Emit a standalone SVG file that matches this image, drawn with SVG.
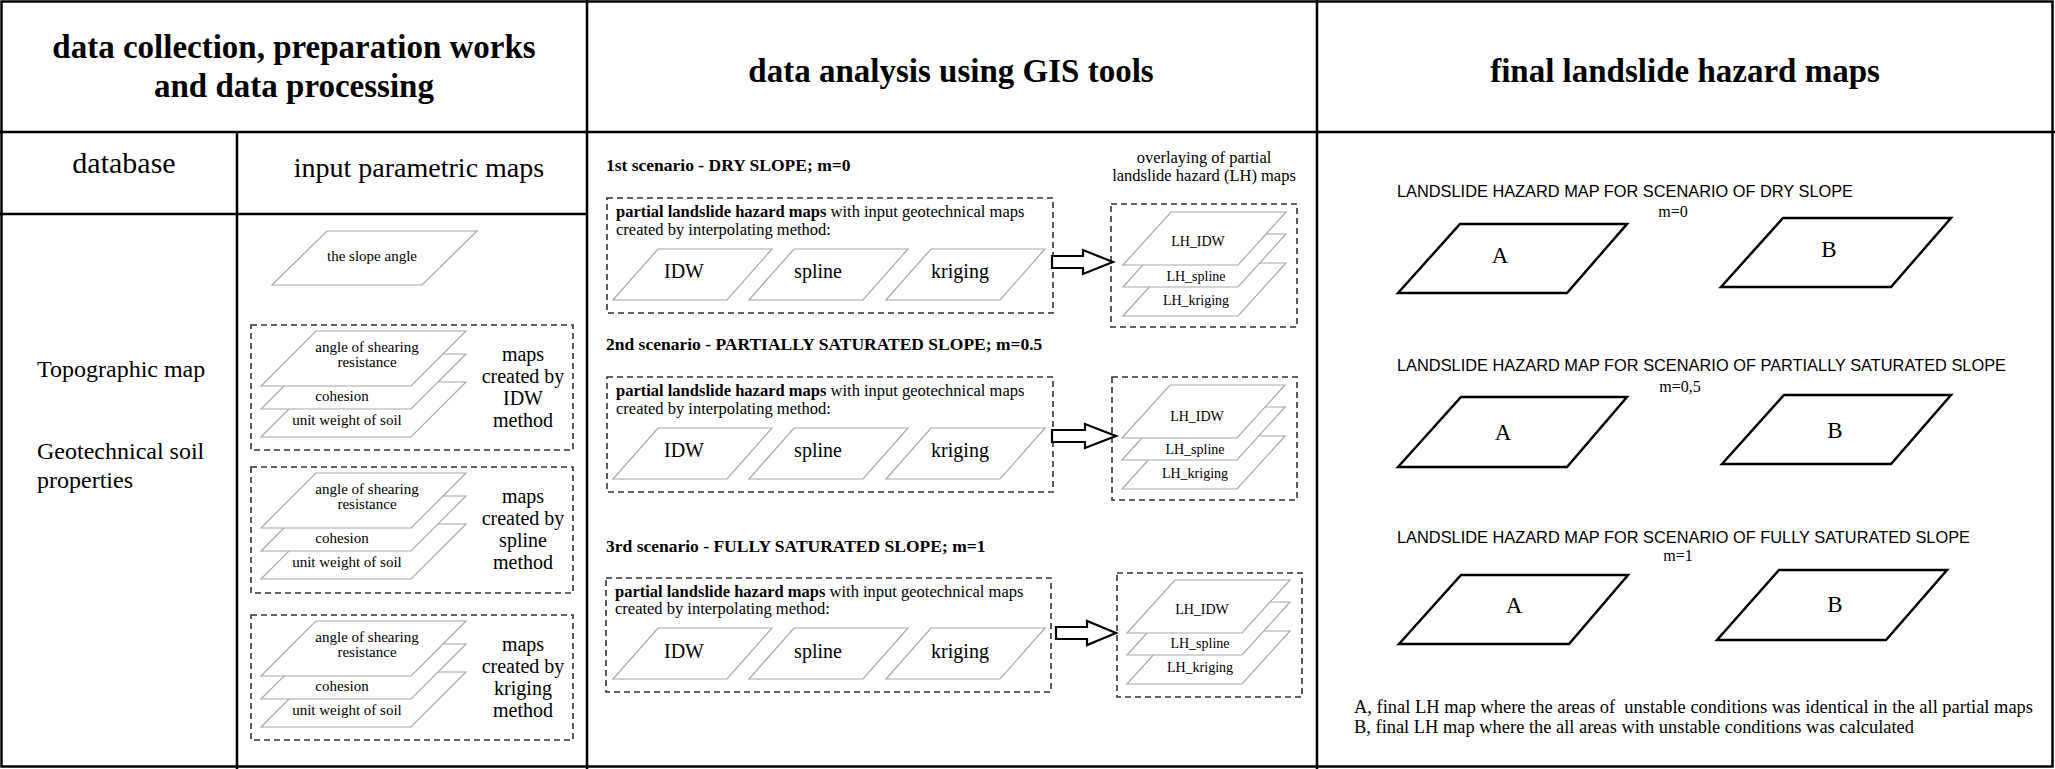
<svg xmlns="http://www.w3.org/2000/svg" width="2055" height="769" viewBox="0 0 2055 769">
<style>
.grid{stroke:#000;stroke-width:2.5;fill:none}
.hdr{font-family:"Liberation Serif",serif;font-weight:bold;font-size:33px;fill:#000;text-anchor:middle}
.sub{font-family:"Liberation Serif",serif;fill:#000;text-anchor:middle}
.lt{fill:#fff;stroke:#a8a8a8;stroke-width:1.2}
.dash{fill:none;stroke:#333;stroke-width:1.6;stroke-dasharray:6,4}
.s15{font-family:"Liberation Serif",serif;font-size:15px;fill:#000;text-anchor:middle}
.s14{font-family:"Liberation Serif",serif;font-size:14px;fill:#000;text-anchor:middle}
.s20{font-family:"Liberation Serif",serif;font-size:20px;fill:#000;text-anchor:middle}
.s16{font-family:"Liberation Serif",serif;font-size:16.5px;fill:#000}
.scn{font-family:"Liberation Serif",serif;font-size:17.5px;font-weight:bold;fill:#000}
.blk{fill:#fff;stroke:#000;stroke-width:2.5;stroke-linejoin:miter}
.sans{font-family:"Liberation Sans",sans-serif;font-size:16.2px;fill:#000}
.ab{font-family:"Liberation Serif",serif;font-size:23px;fill:#000;text-anchor:middle}
.arr{fill:#fff;stroke:#000;stroke-width:2.2}
</style>

<g id="table">
<rect x="1.5" y="1.5" width="2051" height="765" class="grid" stroke-width="3"/>
<line x1="0" y1="132" x2="2055" y2="132" class="grid"/>
<line x1="587" y1="0" x2="587" y2="769" class="grid"/>
<line x1="1317" y1="0" x2="1317" y2="769" class="grid"/>
<line x1="237" y1="132" x2="237" y2="769" class="grid"/>
<line x1="0" y1="214" x2="587" y2="214" class="grid"/>
</g>

<g id="headers">
<text class="hdr" x="294" y="58">data collection, preparation works</text>
<text class="hdr" x="294" y="97">and data processing</text>
<text class="hdr" x="951" y="82">data analysis using GIS tools</text>
<text class="hdr" x="1685" y="82">final landslide hazard maps</text>
<text class="sub" x="124" y="173" font-size="30">database</text>
<text class="sub" x="419" y="177" font-size="28">input parametric maps</text>
</g>

<g id="database">
<text x="37" y="377" font-family="Liberation Serif, serif" font-size="24">Topographic map</text>
<text x="37" y="459" font-family="Liberation Serif, serif" font-size="24">Geotechnical soil</text>
<text x="37" y="488" font-family="Liberation Serif, serif" font-size="24">properties</text>
</g>

<g id="slope-angle">
<polygon class="lt" points="272,285 327,231 477,231 422,285"/>
<text class="s15" x="372" y="261">the slope angle</text>
</g>

<g id="maps-idw">
<rect class="dash" x="251" y="325" width="322" height="125"/>
<polygon class="lt" points="261,437 316,382 466,382 411,437"/>
<polygon class="lt" points="261,409 316,354 466,354 411,409"/>
<polygon class="lt" points="261,386 316,331 466,331 411,386"/>
<text class="s15" x="367" y="352">angle of shearing</text>
<text class="s15" x="367" y="367">resistance</text>
<text class="s15" x="342" y="401">cohesion</text>
<text class="s15" x="347" y="425">unit weight of soil</text>
<text class="s20" x="523" y="361">maps</text>
<text class="s20" x="523" y="383">created by</text>
<text class="s20" x="523" y="405">IDW</text>
<text class="s20" x="523" y="427">method</text>
</g>

<g id="maps-spline">
<rect class="dash" x="251" y="467" width="322" height="126"/>
<polygon class="lt" points="261,579 316,524 466,524 411,579"/>
<polygon class="lt" points="261,551 316,496 466,496 411,551"/>
<polygon class="lt" points="261,528 316,473 466,473 411,528"/>
<text class="s15" x="367" y="494">angle of shearing</text>
<text class="s15" x="367" y="509">resistance</text>
<text class="s15" x="342" y="543">cohesion</text>
<text class="s15" x="347" y="567">unit weight of soil</text>
<text class="s20" x="523" y="503">maps</text>
<text class="s20" x="523" y="525">created by</text>
<text class="s20" x="523" y="547">spline</text>
<text class="s20" x="523" y="569">method</text>
</g>

<g id="maps-kriging">
<rect class="dash" x="251" y="615" width="322" height="125"/>
<polygon class="lt" points="261,727 316,672 466,672 411,727"/>
<polygon class="lt" points="261,699 316,644 466,644 411,699"/>
<polygon class="lt" points="261,676 316,621 466,621 411,676"/>
<text class="s15" x="367" y="642">angle of shearing</text>
<text class="s15" x="367" y="657">resistance</text>
<text class="s15" x="342" y="691">cohesion</text>
<text class="s15" x="347" y="715">unit weight of soil</text>
<text class="s20" x="523" y="651">maps</text>
<text class="s20" x="523" y="673">created by</text>
<text class="s20" x="523" y="695">kriging</text>
<text class="s20" x="523" y="717">method</text>
</g>

<g id="overlay-title">
<text class="s16" x="1204" y="163" text-anchor="middle" font-size="16">overlaying of partial</text>
<text class="s16" x="1204" y="181" text-anchor="middle" font-size="16">landslide hazard (LH) maps</text>
</g>

<g id="scenario-1">
<text class="scn" x="606" y="171">1st scenario - DRY SLOPE; m=0</text>
<rect class="dash" x="607" y="198" width="446" height="115"/>
<text class="s16" x="616" y="217"><tspan font-weight="bold">partial landslide hazard maps</tspan> with input geotechnical maps</text>
<text class="s16" x="616" y="235">created by interpolating method:</text>
<polygon class="lt" points="613,300 658,249 772,249 727,300"/>
<polygon class="lt" points="749,300 794,249 908,249 863,300"/>
<polygon class="lt" points="886,300 931,249 1045,249 1000,300"/>
<text class="s20" x="684" y="278">IDW</text>
<text class="s20" x="818" y="278">spline</text>
<text class="s20" x="960" y="278">kriging</text>
</g>

<g id="overlay-1">
<rect class="dash" x="1111" y="204" width="186" height="123"/>
<polygon class="lt" points="1123,316 1171,263 1286,263 1238,316"/>
<polygon class="lt" points="1123,287 1171,234 1286,234 1238,287"/>
<polygon class="lt" points="1123,265 1171,212 1286,212 1238,265"/>
<text class="s14" x="1198" y="246">LH_IDW</text>
<text class="s14" x="1196" y="281">LH_spline</text>
<text class="s14" x="1196" y="305">LH_kriging</text>
</g>

<g id="scenario-2">
<text class="scn" x="606" y="350">2nd scenario - PARTIALLY SATURATED SLOPE; m=0.5</text>
<rect class="dash" x="607" y="377" width="446" height="115"/>
<text class="s16" x="616" y="396"><tspan font-weight="bold">partial landslide hazard maps</tspan> with input geotechnical maps</text>
<text class="s16" x="616" y="414">created by interpolating method:</text>
<polygon class="lt" points="613,479 658,428 772,428 727,479"/>
<polygon class="lt" points="749,479 794,428 908,428 863,479"/>
<polygon class="lt" points="886,479 931,428 1045,428 1000,479"/>
<text class="s20" x="684" y="457">IDW</text>
<text class="s20" x="818" y="457">spline</text>
<text class="s20" x="960" y="457">kriging</text>
</g>

<g id="overlay-2">
<rect class="dash" x="1112" y="377" width="185" height="123"/>
<polygon class="lt" points="1122,489 1170,436 1285,436 1237,489"/>
<polygon class="lt" points="1122,460 1170,407 1285,407 1237,460"/>
<polygon class="lt" points="1122,438 1170,385 1285,385 1237,438"/>
<text class="s14" x="1197" y="421">LH_IDW</text>
<text class="s14" x="1195" y="454">LH_spline</text>
<text class="s14" x="1195" y="478">LH_kriging</text>
</g>

<g id="scenario-3">
<text class="scn" x="606" y="552">3rd scenario - FULLY SATURATED SLOPE; m=1</text>
<rect class="dash" x="606" y="578" width="445" height="114"/>
<text class="s16" x="615" y="597"><tspan font-weight="bold">partial landslide hazard maps</tspan> with input geotechnical maps</text>
<text class="s16" x="615" y="614">created by interpolating method:</text>
<polygon class="lt" points="613,679 658,628 772,628 727,679"/>
<polygon class="lt" points="749,679 794,628 908,628 863,679"/>
<polygon class="lt" points="886,679 931,628 1045,628 1000,679"/>
<text class="s20" x="684" y="658">IDW</text>
<text class="s20" x="818" y="658">spline</text>
<text class="s20" x="960" y="658">kriging</text>
</g>

<g id="overlay-3">
<rect class="dash" x="1117" y="573" width="185" height="124"/>
<polygon class="lt" points="1127,684 1175,631 1290,631 1242,684"/>
<polygon class="lt" points="1127,655 1175,602 1290,602 1242,655"/>
<polygon class="lt" points="1127,633 1175,580 1290,580 1242,633"/>
<text class="s14" x="1202" y="614">LH_IDW</text>
<text class="s14" x="1200" y="648">LH_spline</text>
<text class="s14" x="1200" y="672">LH_kriging</text>
</g>

<g id="connectors">
<polygon class="arr" points="1052,256 1083,256 1083,250 1113,262 1083,274 1083,268 1052,268"/>
<polygon class="arr" points="1052,430 1085,430 1085,424 1116,436 1085,448 1085,442 1052,442"/>
<polygon class="arr" points="1056,627 1087,627 1087,621 1116,633 1087,645 1087,639 1056,639"/>
</g>

<g id="final-dry">
<text class="sans" x="1397" y="197" textLength="456" lengthAdjust="spacingAndGlyphs">LANDSLIDE HAZARD MAP FOR SCENARIO OF DRY SLOPE</text>
<text class="sub" x="1673" y="217" font-size="16">m=0</text>
<polygon class="blk" points="1398,293 1460,224 1627,224 1567,293"/>
<polygon class="blk" points="1721,287 1783,218 1951,218 1891,287"/>
<text class="ab" x="1500" y="263">A</text>
<text class="ab" x="1829" y="257">B</text>
</g>

<g id="final-partial">
<text class="sans" x="1397" y="371" textLength="609" lengthAdjust="spacingAndGlyphs">LANDSLIDE HAZARD MAP FOR SCENARIO OF PARTIALLY SATURATED SLOPE</text>
<text class="sub" x="1680" y="392" font-size="16">m=0,5</text>
<polygon class="blk" points="1398,467 1461,397 1627,397 1567,467"/>
<polygon class="blk" points="1722,464 1784,395 1951,395 1891,464"/>
<text class="ab" x="1503" y="440">A</text>
<text class="ab" x="1835" y="438">B</text>
</g>

<g id="final-full">
<text class="sans" x="1397" y="543" textLength="573" lengthAdjust="spacingAndGlyphs">LANDSLIDE HAZARD MAP FOR SCENARIO OF FULLY SATURATED SLOPE</text>
<text class="sub" x="1678" y="561" font-size="16">m=1</text>
<polygon class="blk" points="1399,644 1461,575 1628,575 1569,644"/>
<polygon class="blk" points="1717,640 1779,570 1947,570 1886,640"/>
<text class="ab" x="1514" y="613">A</text>
<text class="ab" x="1835" y="612">B</text>
</g>

<g id="legend">
<text x="1354" y="713" xml:space="preserve" font-family="Liberation Serif, serif" font-size="18.5" textLength="679" lengthAdjust="spacingAndGlyphs">A, final LH map where the areas of  unstable conditions was identical in the all partial maps</text>
<text x="1354" y="733" font-family="Liberation Serif, serif" font-size="18.5" textLength="560" lengthAdjust="spacingAndGlyphs">B, final LH map where the all areas with unstable conditions was calculated</text>
</g>
</svg>
